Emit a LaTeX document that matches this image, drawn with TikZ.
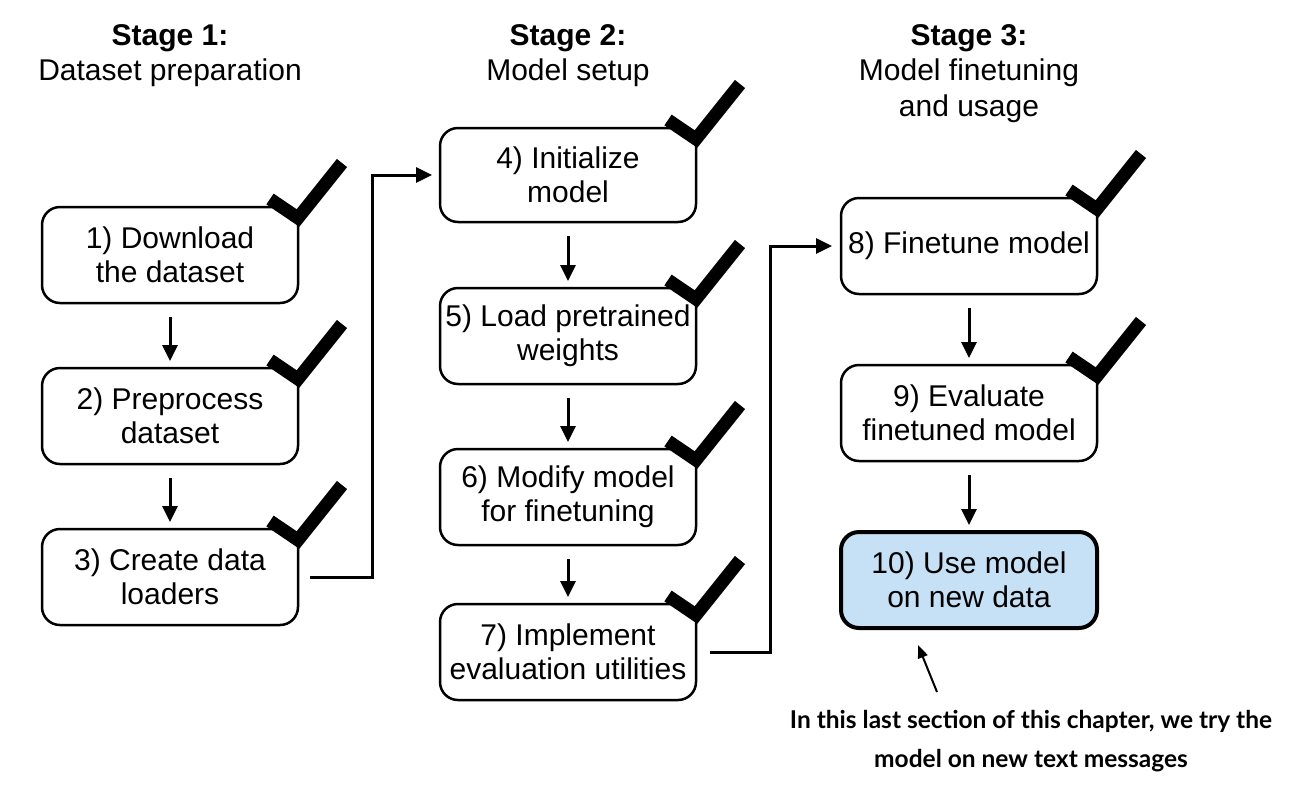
\documentclass[tikz,border=0pt]{standalone}
\usepackage{fontspec}
\setmainfont{Liberation Sans}
\newfontfamily\notefont{Lato}
\usetikzlibrary{positioning, arrows.meta}
\definecolor{usefill}{RGB}{198,224,245}

\begin{document}
\begin{tikzpicture}[x=1pt, y=-1pt, >={Triangle[length=16pt,width=15pt]},
                    node distance=65pt, font=\fontsize{30}{34}\selectfont]
  \tikzstyle{stepbox}=[draw, line width=2.5pt, rounded corners=18pt, minimum width=256pt,
                       minimum height=96pt, align=center, inner sep=0pt, outer sep=0pt]
  \tikzstyle{stage}=[align=center, inner sep=0pt, anchor=north, font=\fontsize{30}{35.5}\selectfont]
  \tikzstyle{flow}=[->, line width=3pt, shorten >=7pt, shorten <=14pt]
  \tikzstyle{tick}=[line width=13pt, line join=miter]
  \tikzstyle{pointer}=[-{Triangle[length=13pt,width=10pt]}, line width=2pt]

  \useasboundingbox (0,0) rectangle (1296,804);

  % stage headers
  \node[stage] (s1) at (170,24) {\textbf{Stage 1:}\\Dataset preparation};
  \node[stage] (s2) at (568,24) {\textbf{Stage 2:}\\Model setup};
  \node[stage] (s3) at (969,24) {\textbf{Stage 3:}\\Model finetuning\\and usage};

  % stage 1
  \node[stepbox] (b1) at (170,255) {1) Download\\the dataset};
  \node[stepbox] (b2) [below=of b1] {2) Preprocess\\dataset};
  \node[stepbox] (b3) [below=of b2] {3) Create data\\loaders};

  % stage 2
  \node[stepbox, minimum height=94pt] (b4) at (568,175) {4) Initialize\\model};
  \node[stepbox] (b5) [below=66pt of b4] {5) Load pretrained\\weights};
  \node[stepbox] (b6) [below=of b5] {6) Modify model\\for finetuning};
  \node[stepbox] (b7) [below=59pt of b6] {7) Implement\\evaluation utilities};

  % stage 3
  \node[stepbox] (b8) at (969,246) {8) Finetune model};
  \node[stepbox] (b9) [below=71pt of b8] {9) Evaluate\\finetuned model};
  \node[stepbox, fill=usefill, line width=4pt] (b10) [below=71pt of b9] {10) Use model\\on new data};

  \path[flow] (b1) edge (b2)
              (b2) edge (b3)
              (b4) edge (b5)
              (b5) edge (b6)
              (b6) edge (b7)
              (b8) edge (b9)
              (b9) edge (b10);
  \draw[flow, shorten <=12pt, shorten >=8pt] (b3.east) -- ++(74,0) |- (b4.west);
  \draw[flow, shorten <=14pt, shorten >=9pt] (b7.east) -- ++(74,0) |- (b8.west);

  % check marks
  \foreach \b in {b1,b2,b3,b4,b5,b6,b7,b8,b9}
    \draw[tick, shift={(\b.north east)}] (-28,-8) -- (0,11) -- (44,-44);

  % note
  \coordinate (notetail) at (937,692);
  \coordinate (notehead) at (918,645);
  \draw[pointer] (notetail) -- (notehead);
  \node[align=center, font=\notefont\bfseries\fontsize{24.5}{39}\selectfont] (note) at (1031,741)
    {In this last section of this chapter, we try the\\model on new text messages};
\end{tikzpicture}
\end{document}
